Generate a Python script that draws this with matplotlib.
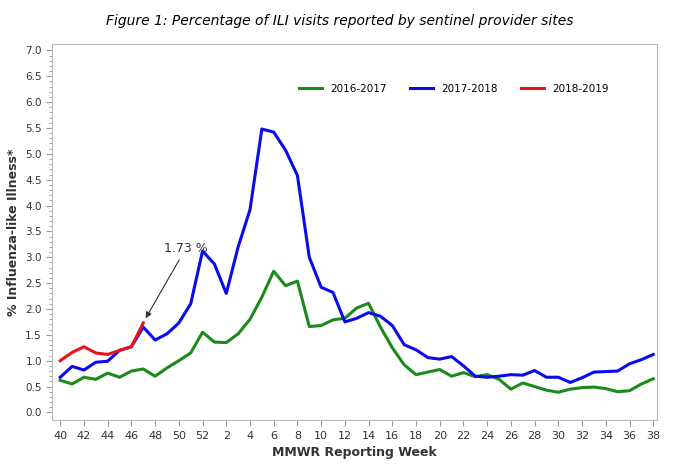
import matplotlib.pyplot as plt
import numpy as np

# Data
weeks = list(range(40, 53)) + list(range(1, 39))
s1617 = [0.62, 0.55, 0.68, 0.64, 0.76, 0.68, 0.80, 0.84, 0.70, 0.86, 1.00, 1.15, 1.55,
         1.36, 1.35, 1.52, 1.80, 2.23, 2.73, 2.45, 2.54, 1.66, 1.68, 1.79, 1.82, 2.02,
         2.11, 1.65, 1.25, 0.92, 0.73, 0.78, 0.83, 0.70, 0.77, 0.69, 0.73, 0.64, 0.45,
         0.57, 0.50, 0.43, 0.39, 0.45, 0.48, 0.49, 0.46, 0.40, 0.42, 0.55, 0.65]
s1718 = [0.68, 0.89, 0.82, 0.97, 0.99, 1.20, 1.27, 1.65, 1.40, 1.52, 1.73, 2.10, 3.12,
         2.87, 2.30, 3.20, 3.92, 5.48, 5.42, 5.07, 4.58, 3.00, 2.42, 2.32, 1.75, 1.82,
         1.93, 1.86, 1.68, 1.31, 1.21, 1.06, 1.03, 1.08, 0.90, 0.70, 0.68, 0.70, 0.73,
         0.72, 0.81, 0.68, 0.68, 0.58, 0.67, 0.78, 0.79, 0.80, 0.94, 1.02, 1.12]
s1819 = [1.00, 1.16, 1.27, 1.15, 1.12, 1.20, 1.27, 1.73]

x = np.arange(len(weeks))

fig = plt.figure(figsize=(6.79, 4.70), dpi=100)
ax = fig.add_axes([0.077, 0.106, 0.891, 0.8])

ax.plot(x, s1617, color='#1a8a1a', lw=2.2, label='2016-2017')
ax.plot(x, s1718, color='#0a0aeb', lw=2.2, label='2017-2018')
ax.plot(x[:len(s1819)], s1819, color='#e8141c', lw=2.2, label='2018-2019')

ax.annotate('1.73 %', xy=(x[7] + 0.2, 1.82), xytext=(10.6, 3.05),
            ha='center', va='bottom', fontsize=9, color='#333333',
            arrowprops=dict(arrowstyle='-|>', color='#333333', lw=0.8,
                            shrinkA=2, shrinkB=0))

ax.set_xlim(-0.67, 50.34)
ax.set_ylim(-0.15, 7.12)
ax.set_xticks(x[::2])
ax.set_xticklabels([str(w) for w in weeks[::2]], fontsize=8, color='#333333')
ax.set_yticks(np.arange(0, 7.01, 0.5))
ax.set_yticklabels(['%.1f' % v for v in np.arange(0, 7.01, 0.5)], fontsize=7.5, color='#333333')
ax.set_yticks(np.arange(0, 7.01, 0.1), minor=True)
ax.tick_params(which='minor', length=2, color='#999999')
ax.tick_params(which='major', length=4, color='#999999')
for s in ax.spines.values():
    s.set_color('#bbbbbb')

ax.set_xlabel('MMWR Reporting Week', fontsize=9, fontweight='bold', color='#333333')
ax.set_ylabel('% Influenza-like Illness*', fontsize=9, fontweight='bold', color='#333333')
fig.text(0.5, 0.955, 'Figure 1: Percentage of ILI visits reported by sentinel provider sites',
         ha='center', va='center', fontsize=10, style='italic')

ax.legend(loc='upper right', bbox_to_anchor=(0.935, 0.92), ncol=3, frameon=False,
          fontsize=7.5, handlelength=2.2, columnspacing=2.2)

fig.savefig('out.png', dpi=100)
